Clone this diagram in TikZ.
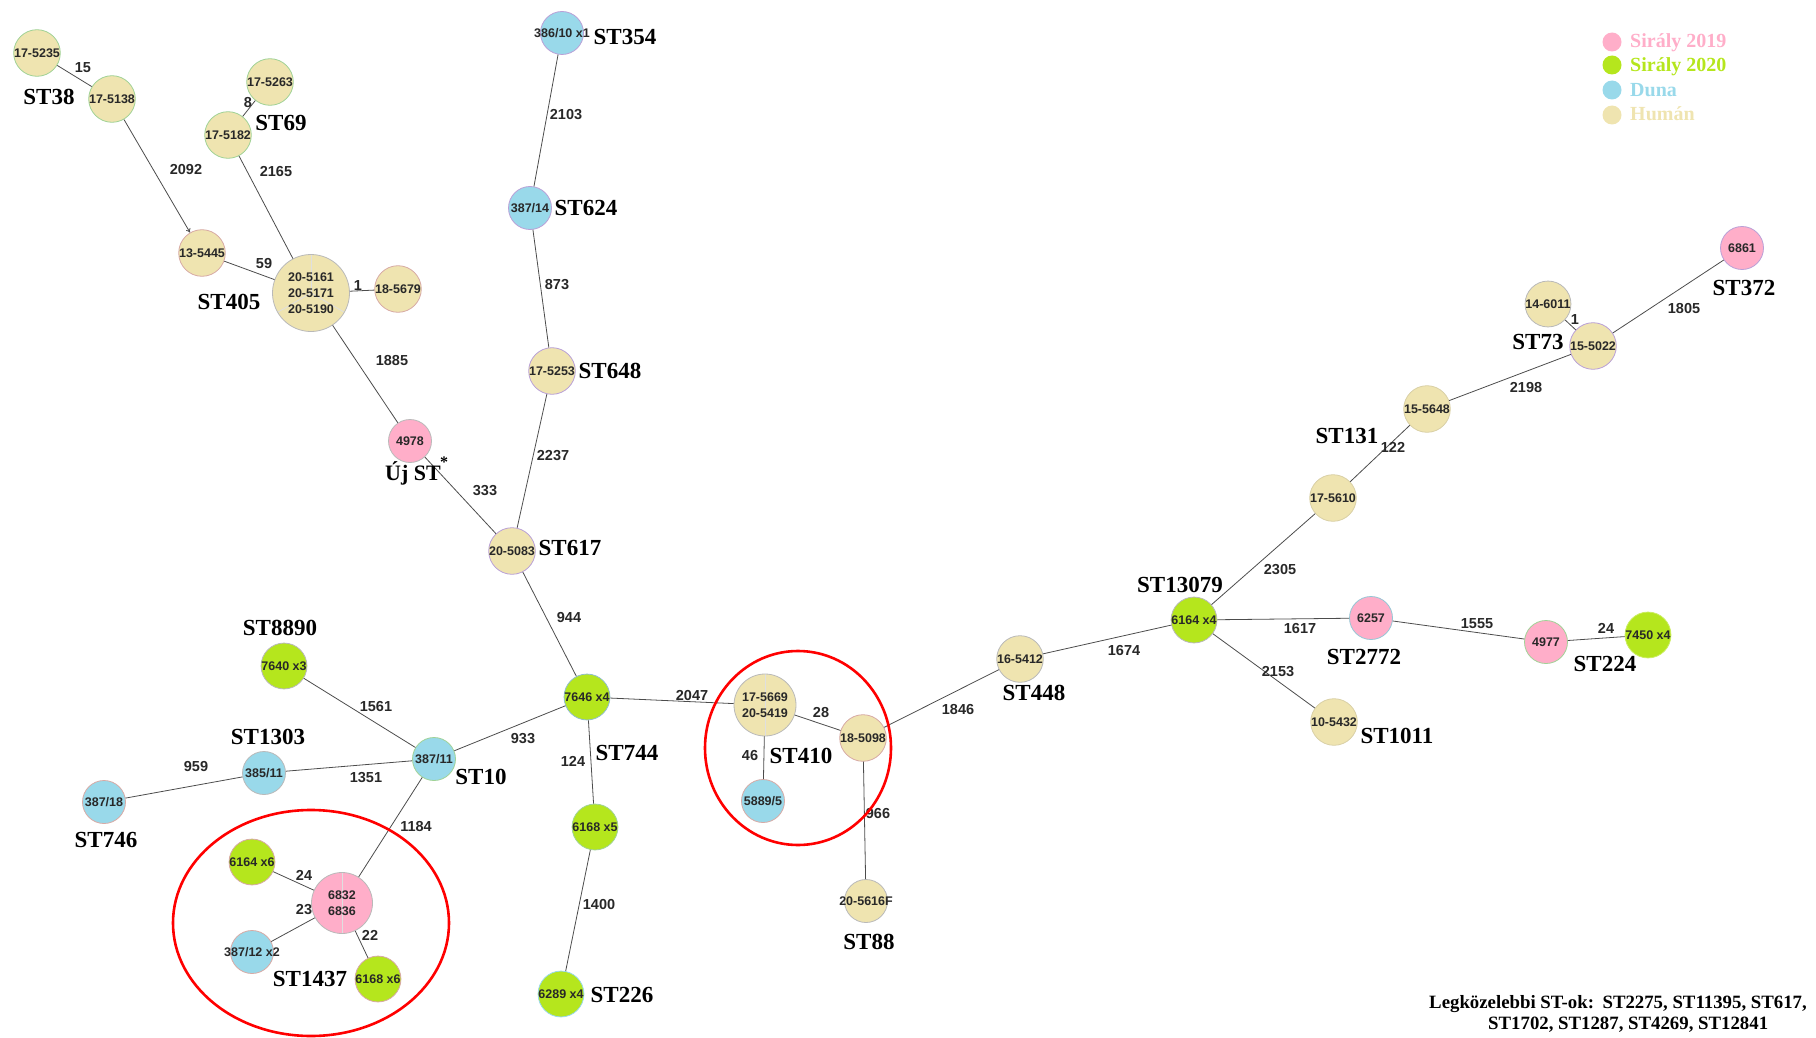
\documentclass[tikz,border=0pt]{standalone}
\usepackage{fontspec}
\usetikzlibrary{arrows.meta}
\newfontfamily\sansf{Liberation Sans}
\newfontfamily\seriff{Liberation Serif}
\definecolor{pinkc}{RGB}{255,174,201}
\definecolor{greenc}{RGB}{181,230,29}
\definecolor{bluec}{RGB}{153,217,234}
\definecolor{tanc}{RGB}{239,228,176}
\definecolor{bgreen}{RGB}{160,210,150}
\definecolor{bpink}{RGB}{215,170,165}
\definecolor{bgray}{RGB}{185,185,185}
\definecolor{bpurp}{RGB}{185,160,215}
\definecolor{txtc}{RGB}{40,40,40}
\tikzset{
 nd/.style={circle, minimum size=43pt, inner sep=0pt, line width=0.8pt, draw=bgray,
   font=\sansf\bfseries\fontsize{12.5}{16}\selectfont, text=txtc, align=center},
 hum/.style={nd, fill=tanc},
 gul/.style={nd, fill=greenc},
 dun/.style={nd, fill=bluec},
 sir/.style={nd, fill=pinkc},
 conn/.style={draw=black!70, line width=0.8pt},
 el/.style={font=\sansf\bfseries\fontsize{14.5}{16}\selectfont, text=txtc, inner sep=0pt},
 stl/.style={font=\seriff\bfseries\fontsize{23}{26}\selectfont, inner sep=0pt},
 legt/.style={font=\seriff\bfseries\fontsize{20}{22}\selectfont, inner sep=0pt, anchor=base west},
 redring/.style={draw=red, line width=2.6pt},
 splitline/.style={draw=white!75!gray, line width=0.8pt},
}
\newcommand\cn[5]{\draw[conn] (#1) -- (#2); \node[el] (l#1#2) at (#4,#5) {#3};}
\newcommand\zb[1]{\makebox[0pt]{#1}}
\begin{document}
\begin{tikzpicture}[x=1pt,y=-1pt]
\useasboundingbox (0,0) rectangle (1816,1038);
% ---------- nodes ----------
\node[hum, draw=bgreen] (a5235) at (37,53) {17-5235};
\node[hum, draw=bgreen] (a5138) at (112,99) {17-5138};
\node[hum, draw=bgreen] (a5263) at (270,82) {17-5263};
\node[hum, draw=bgreen] (a5182) at (228,135) {17-5182};
\node[hum, draw=bpink] (a5445) at (202,253) {13-5445};
\node[hum, minimum size=77pt, path picture={
   \draw[splitline] (path picture bounding box.center) -- ++(90:40pt);
   \draw[splitline] (path picture bounding box.center) -- ++(210:40pt);
   \draw[splitline] (path picture bounding box.center) -- ++(330:40pt);}]
   (a405) at (311,293) {20-5161\\20-5171\\20-5190};
\node[hum, draw=bpink] (a5679) at (398,289) {18-5679};
\node[dun, draw=bpurp] (a386) at (562,33) {\zb{386/10 x1}};
\node[dun, draw=bpurp] (a387) at (530,208) {387/14};
\node[hum, draw=bpurp] (a5253) at (552,371) {17-5253};
\node[sir] (a4978) at (410,441) {4978};
\node[hum, draw=bpurp] (a5083) at (512,551) {20-5083};
\node[gul, draw=bluec!70!gray] (a7646) at (587,697) {7646 x4};
\node[gul] (a7640) at (284,666) {7640 x3};
\node[dun, draw=bgreen] (a38711) at (434,759) {387/11};
\node[dun] (a38511) at (264,773) {385/11};
\node[dun, draw=bpink] (a38718) at (104,802) {387/18};
\node[gul, draw=bpink] (a6164a) at (252,862) {6164 x6};
\node[sir, minimum size=61pt, path picture={
   \draw[splitline] (path picture bounding box.north) -- (path picture bounding box.south);}]
   (a6832) at (342,903) {6832\\6836};
\node[dun, draw=bpink] (a38712) at (252,952) {\zb{387/12 x2}};
\node[gul, draw=bpink] (a6168a) at (378,979) {6168 x6};
\node[gul, draw=bgreen] (a6168b) at (595,827) {6168 x5};
\node[gul, draw=bluec] (a6289) at (561,994) {6289 x4};
\node[hum, minimum size=62pt, path picture={
   \draw[splitline] (path picture bounding box.north) -- (path picture bounding box.south);}]
   (a5669) at (765,705) {17-5669\\20-5419};
\node[hum, draw=bpink] (a5098) at (863,738) {18-5098};
\node[dun, draw=bpink] (a5889) at (763,801) {5889/5};
\node[hum] (a5616) at (866,901) {\zb{20-5616F}};
\node[hum] (a5412) at (1020,659) {16-5412};
\node[gul] (a6164b) at (1194,620) {6164 x4};
\node[sir, draw=bluec!80!gray] (a6257) at (1371,618) {6257};
\node[sir, draw=bgreen] (a4977) at (1546,642) {4977};
\node[gul, draw=greenc!70!white] (a7450) at (1648,635) {7450 x4};
\node[hum, draw=tanc!80!gray] (a5432) at (1334,722) {10-5432};
\node[hum, draw=tanc!80!gray] (a5610) at (1333,498) {17-5610};
\node[hum, draw=tanc!80!gray] (a5648) at (1427,409) {15-5648};
\node[hum, draw=bpurp] (a5022) at (1593,346) {15-5022};
\node[hum] (a6011) at (1548,304) {14-6011};
\node[sir, draw=bpurp] (a6861) at (1742,248) {6861};
% ---------- connectors ----------
\cn{a5235}{a5138}{15}{83}{68}
\cn{a5263}{a5182}{8}{248}{103}
\draw[conn,-{To[length=4pt,width=5pt]}] (a5138) -- (a5445);
\node[el] (l2092) at (186,170) {2092};
\cn{a5182}{a405}{2165}{276}{172}
\cn{a5445}{a405}{59}{264}{264}
\cn{a405}{a5679}{1}{358}{286}
\cn{a405}{a4978}{1885}{392}{361}
\cn{a4978}{a5083}{333}{485}{491}
\cn{a386}{a387}{2103}{566}{115}
\cn{a387}{a5253}{873}{557}{285}
\cn{a5253}{a5083}{2237}{553}{456}
\cn{a5083}{a7646}{944}{569}{618}
\cn{a7646}{a38711}{933}{523}{739}
\cn{a7646}{a6168b}{124}{573}{761}
\cn{a6168b}{a6289}{1400}{599}{905}
\cn{a7646}{a5669}{2047}{692}{696}
\cn{a5669}{a5098}{28}{821}{713}
\cn{a5669}{a5889}{46}{750}{756}
\cn{a5098}{a5616}{966}{878}{814}
\cn{a5098}{a5412}{1846}{958}{710}
\cn{a5412}{a6164b}{1674}{1124}{651}
\cn{a6164b}{a6257}{1617}{1300}{629}
\cn{a6164b}{a5432}{2153}{1278}{672}
\cn{a6164b}{a5610}{2305}{1280}{570}
\cn{a5610}{a5648}{122}{1393}{447}
\cn{a5648}{a5022}{2198}{1526}{388}
\cn{a6011}{a5022}{1}{1575}{320}
\cn{a5022}{a6861}{1805}{1684}{309}
\cn{a6257}{a4977}{1555}{1477}{624}
\cn{a4977}{a7450}{24}{1606}{628}
\cn{a7640}{a38711}{1561}{376}{707}
\cn{a38711}{a38511}{1351}{366}{778}
\cn{a38511}{a38718}{959}{196}{767}
\cn{a38711}{a6832}{1184}{416}{827}
\cn{a6832}{a6164a}{24}{304}{875}
\cn{a6832}{a38712}{23}{304}{910}
\cn{a6832}{a6168a}{22}{370}{935}
% ---------- red rings ----------
\draw[redring] (311,923) ellipse [x radius=138pt, y radius=113pt];
\draw[redring] (798,748) ellipse [x radius=93pt, y radius=97pt];
% ---------- ST labels ----------
\node[stl] (s38) at (49,97) {ST38};
\node[stl] (s69) at (281,123) {ST69};
\node[stl] (s405) at (229,302) {ST405};
\node[stl] (s354) at (625,37) {ST354};
\node[stl] (s624) at (586,208) {ST624};
\node[stl] (s648) at (610,371) {ST648};
\node[stl, anchor=base, font=\seriff\bfseries\fontsize{22}{26}\selectfont] (suj) at (413,480) {Új ST};
\node[stl, font=\seriff\bfseries\fontsize{16}{18}\selectfont] (sast) at (444,462) {*};
\node[stl] (s617) at (570,548) {ST617};
\node[stl] (s8890) at (280,628) {ST8890};
\node[stl] (s1303) at (268,737) {ST1303};
\node[stl] (s746) at (106,840) {ST746};
\node[stl] (s10) at (481,777) {ST10};
\node[stl] (s744) at (627,753) {ST744};
\node[stl] (s1437) at (310,979) {ST1437};
\node[stl] (s226) at (622,995) {ST226};
\node[stl] (s410) at (801,756) {ST410};
\node[stl] (s88) at (869,942) {ST88};
\node[stl] (s448) at (1034,693) {ST448};
\node[stl] (s13079) at (1180,585) {ST13079};
\node[stl] (s2772) at (1364,657) {ST2772};
\node[stl] (s224) at (1605,664) {ST224};
\node[stl] (s1011) at (1397,736) {ST1011};
\node[stl] (s73) at (1538,342) {ST73};
\node[stl] (s131) at (1347,436) {ST131};
\node[stl] (s372) at (1744,288) {ST372};
% ---------- legend ----------
\fill[pinkc] (1612,42) circle [radius=9.5pt];
\fill[greenc] (1612,65) circle [radius=9.5pt];
\fill[bluec] (1612,90) circle [radius=9.5pt];
\fill[tanc] (1612,115) circle [radius=9.5pt];
\node[legt, text=pinkc] (g1) at (1630,48) {Sirály 2019};
\node[legt, text=greenc] (g2) at (1630,72) {Sirály 2020};
\node[legt, text=bluec] (g3) at (1630,97) {Duna};
\node[legt, text=tanc] (g4) at (1630,121) {Humán};
% ---------- footnote ----------
\node[inner sep=0pt, anchor=base west, font=\seriff\bfseries\fontsize{18.8}{21}\selectfont] (f1) at (1429,1008)
  {Legközelebbi ST-ok:\hspace{0.45em}ST2275, ST11395, ST617,};
\node[inner sep=0pt, anchor=base west, font=\seriff\bfseries\fontsize{18.8}{21}\selectfont] (f2) at (1488,1029)
  {ST1702, ST1287, ST4269, ST12841};
\end{tikzpicture}
\end{document}
